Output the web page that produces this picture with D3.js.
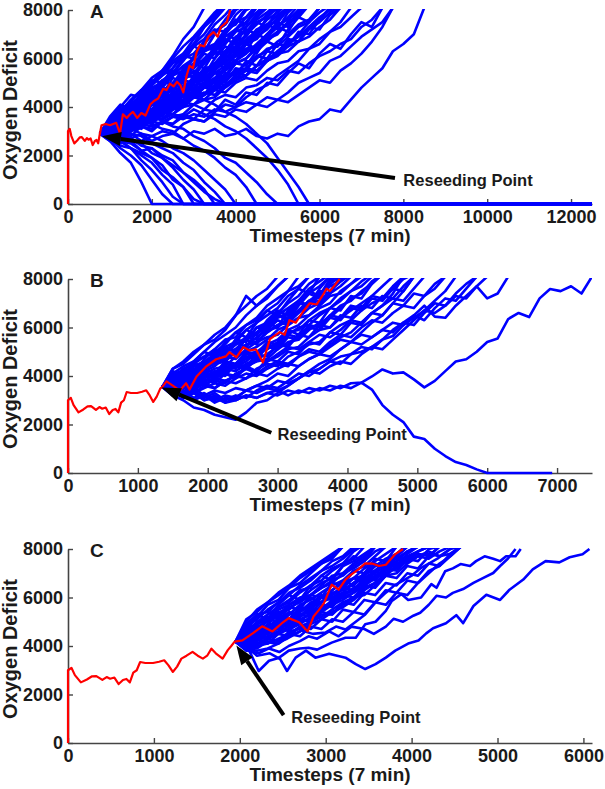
<!DOCTYPE html>
<html>
<head>
<meta charset="utf-8">
<script src="https://cdn.jsdelivr.net/npm/d3@7"></script>
<style>
  body { margin: 0; background: #fff; }
  svg text { font-family: "Liberation Sans", Arial, Helvetica, sans-serif; font-weight: bold; fill: #1a1a1a; }
</style>
</head>
<body>
<svg id="chart" width="605" height="789"></svg>
<script>
// ---- data (oxygen deficit vs timestep) ----

const yTicks = [0, 2000, 4000, 6000, 8000];
const xTicksA = [0, 2000, 4000, 6000, 8000, 10000, 12000];
const xTicksB = [0, 1000, 2000, 3000, 4000, 5000, 6000, 7000];
const xTicksC = [0, 1000, 2000, 3000, 4000, 5000, 6000];

// red run before reseeding (same in all three panels)
const redEarly = [[0,0],[0,3000],[40,3100],[80,2800],[150,2500],[220,2620],[280,2750],[330,2760],[400,2600],
  [450,2720],[490,2650],[540,2700],[590,2430],[640,2600],[680,2640],[720,2500],[760,2900],[800,3000],[840,3340],
  [900,3300],[990,3300],[1060,3350],[1120,3410],[1170,3200],[1220,2930],[1270,3150],[1320,3480],[1380,3600],
  [1450,3760],[1510,3600],[1570,3480],[1620,3600],[1670,3890],[1720,3700],[1800,3480],[1860,3830],[1900,4000],[1940,4180]];

// panel A
const reseedA = 760;
const zeroEndA = 12500;
const redA = [[760,2900],[800,3250],[900,3300],[1000,3250],[1150,3350],[1240,2900],[1310,3700],[1400,3550],[1480,3700],
  [1550,3800],[1650,3550],[1750,3750],[1850,3650],[1960,4100],[2050,4250],[2150,4350],[2270,4750],[2350,4700],[2430,4960],
  [2520,4850],[2600,5040],[2680,4900],[2750,4600],[2830,5300],[2900,5700],[2980,5600],[3070,6270],[3150,6560],[3250,6500],
  [3350,6900],[3470,7090],[3570,6900],[3650,7300],[3790,7500],[3870,8000]];
const timeA = [760,1000,1250,1500,1750,2000,2250,2500,2750,3000,3250,3500,3750,4000,4250,4500,4750,5000,5250,5500,
  5750,6000,6250,6500,6750,7000,7250,7500,7750,8000,8250,8500];
const blueA = [
  [2900,3500,3800,4300,4700,5200,5500,6100,6800,7300,8100],
  [2900,3300,3600,4100,4400,4900,5300,5600,6200,6600,7300,7700,8200],
  [2900,3200,3700,3900,4300,4500,5100,5400,5900,6500,6800,7400,7800,8300],
  [2900,3400,3300,3800,4200,4600,4800,5300,5700,6000,6600,7100,7400,8000,8300],
  [2900,2900,3400,3700,3900,4400,4700,4900,5500,5800,6300,6500,7100,7500,8100],
  [2900,3200,3100,3500,3900,4100,4600,4800,5100,5700,5900,6400,6900,7200,7700,8200],
  [2900,3100,3500,3600,3800,4300,4400,4900,5300,5400,5900,6300,6600,7200,7500,7900,8300],
  [2900,2800,3100,3400,3600,3700,4200,4500,4800,5200,5500,5800,6300,6500,7000,7400,7800,8200],
  [2900,3300,3200,3600,3700,4100,4300,4400,4900,5100,5600,5700,6200,6700,6900,7500,7700,8100],
  [2900,2900,3200,3300,3700,3900,4100,4600,4700,5000,5400,5800,6000,6400,6800,7100,7600,7900,8300],
  [2900,3100,2900,3300,3500,3600,4000,4200,4600,4900,5000,5500,5900,6100,6600,6900,7200,7700,8100],
  [2900,2800,3000,3200,3100,3600,3800,4100,4300,4700,4900,5200,5600,5900,6200,6600,7000,7300,7700,8200],
  [2900,3200,3400,3300,3700,3800,4000,4400,4500,4800,5300,5400,5700,6100,6400,6500,7000,7400,7600,8000,8300],
  [2900,2700,2900,3100,3400,3300,3700,3900,4300,4400,4800,5100,5300,5800,6000,6400,6700,7100,7400,7900,8200],
  [2900,3100,3300,3600,3500,3900,4200,4300,4600,5000,5100,5600,6000,6200,6700,7000,7400,7500,8000,8300],
  [2900,3300,3500,3400,3800,4200,4500,4700,5200,5300,5800,6200,6300,6900,7100,7600,7900,8300],
  [2900,3200,3600,3900,4200,4400,4900,5300,5500,6000,6400,6600,7200,7400,8000,8200],
  [2900,3400,3600,4000,4300,4800,5000,5400,6000,6200,6700,7100,7400,8000,8300],
  [2900,2900,3300,3500,3800,3900,4300,4600,4700,5200,5500,5700,6000,6500,6700,7200,7400,7800,8100],
  [2900,3100,3000,3400,3600,3600,3900,4100,4500,4600,5000,5400,5500,5900,6300,6400,6800,7100,7500,7700,8200],
  [2900,2800,3100,3000,3300,3500,3500,3900,4000,4400,4500,4900,5300,5400,5800,6100,6300,6700,7000,7400,7600,8100],
  [2900,3000,2800,3200,3200,3500,3800,3700,4100,4400,4500,4800,5200,5500,5600,6000,6400,6500,6900,7300,7500,7900,8200],
  [2900,3300,3700,3600,4000,4400,4600,5000,5500,5700,6300,6500,7000,7500,7700,8200],
  [2900,3500,3900,4100,4500,5000,5300,5800,6100,6600,7000,7600,8100],
  [2900,3200,3500,3800,4000,4500,4700,4900,5400,5600,6000,6400,6600,7100,7300,7700,8100],
  [2900,2900,3200,3400,3300,3700,3900,4200,4300,4700,5000,5100,5500,5800,6000,6500,6800,7000,7500,7800,8200],
  [2900,2700,2800,3000,3200,3100,3400,3600,3700,4100,4300,4400,4800,5100,5300,5700,5900,6300,6700,6900,7300,7700,8000,8300],
  [2900,3100,3400,3200,3600,3900,4100,4400,4600,5100,5200,5600,5800,6300,6600,6800,7300,7600,8100],
  [2900,3400,3900,4200,4700,5000,5500,6000,6500,6900,7400,7900,8300],
  [2900,3300,3600,4000,4500,4900,5400,5900,6200,6800,7300,7800,8200],
  [2900,3300,3100,3700,3500,4100,4000,4600,4400,5000,5200,5000,5700,5900,6400,6200,6900,7300,7100,7800,8200],
  [2900,3100,3500,3300,3900,3800,4300,4800,4600,5300,5100,5700,6100,5900,6600,7000,6800,7500,8100],
  [2900,3400,3200,3800,4000,3900,4500,4400,5100,5000,5600,5500,6200,6500,6300,7000,7400,7200,7900,8300],
  [2900,3200,3600,3400,4100,4400,4200,4900,5400,5200,5900,6300,6100,6800,7200,7000,7700,8200],
  [2900,3000,3400,3900,3700,4300,4600,4400,5100,5500,5300,6000,6500,6300,7000,7500,7300,8000,8300],
  [2900,3500,3300,4000,4500,4300,5000,5500,5300,6100,6500,6300,7100,7600,7400,8200],
  [2900,3300,3800,3600,4200,4700,4500,5200,5000,5700,6200,6000,6700,7200,7000,7700,8200],
  [2900,2800,3300,3100,3600,3500,4000,3900,4500,4400,5000,4800,5400,5300,5900,5700,6300,6200,6800,6700,7300,7200,7800,8100],
  [2900,3100,2900,3400,3300,3800,3600,4200,4100,4700,4500,5100,5000,5600,5500,6100,6000,6600,6500,7100,7000,7600,8100],
  [2900,3400,3700,4200,4000,4700,5100,4900,5600,6000,5800,6500,7000,6800,7500,8100],
  [2900,3200,3000,3500,3900,3700,4300,4200,4800,4700,5300,5800,5600,6200,6600,6400,7000,7500,7300,8000,8200],
  [2900,3300,3600,4000,3800,4400,4800,4600,5300,5800,5600,6300,6800,6600,7300,7800,8200],
  [2900,3000,3300,3200,3700,3600,4100,4000,4600,4500,4900,5400,5200,5800,5700,6300,6700,6500,7200,7700,7500,8100],
  [2900,3500,4000,4500,4400,5000,5500,5300,6000,6500,6300,7000,7600,8100],
  [2900,3600,4100,3900,4600,5100,5000,5600,6100,6000,6700,7200,7100,7800,8200],
  // slower runs
  [2900,2800,2900,2700,2900,2600,2800,2900,2700,3000,2900,3100,2800,2900,3100,2800,2700,2900,2800,3200,3400,3500,3900,3800,4300,4800,5200,5600,6300,6600,7000,8100],
  [2900,2900,3100,3300,3200,3400,3300,3600,3500,3700,3600,3900,3800,4000,4200,4100,4400,4300,4600,5000,5200,5400,5900,6100,6500,6900,7200,7500,8100],
  [2900,3200,3000,3400,3500,3400,3800,3700,4000,4100,3900,4300,4500,4400,4800,4900,5200,5100,5500,5400,5800,6100,6300,6600,6800,7300,7600,8100],
  [2900,3100,3300,3200,3600,3800,3700,4000,4200,4100,4500,4700,4600,5000,5200,5100,5500,5800,5900,6300,6400,6800,7100,7300,7700,8100],
  [2900,3300,3500,3400,3700,3900,4200,4100,4500,4400,4800,5000,4900,5300,5600,5500,5900,6200,6300,6700,6900,7300,7600,8100],
  [2900,2800,2700,2900,2600,2800,3000,2900,3300,3500,3400,3800,4100,4000,4400,4700,4900,5300,5600,5900,6400,6600,7100,7500,8100],
  [2900,3200,3100,3400,3700,3600,3900,4100,4000,4400,4600,4500,4900,5200,5300,5700,5900,6300,6600,7000,7500,8100],
  [2900,3100,3300,3600,3500,3800,4000,4300,4200,4600,4800,4700,5100,5400,5300,5700,6000,6200,6600,6900,7300,7600,8100],
  [2900,2900,3200,3100,3500,3600,3500,3900,4100,4400,4300,4700,4900,5200,5500,5400,5900,6100,6500,6700,7200,7500,7900,8200],
  [2900,3000,2800,3100,3300,3200,3400,3300,3600,3500,3400,3700,3600,3900,3800,4100,4000,4300,4200,4500,4800,5100,5000,5500,5800,6200,6700,7300,8100],
  [2900,2700,3000,2800,3200,3000,3400,3300,3700,3500,3900,3800,4300,4100,4600,4500,5000,4900,5400,5800,5600,6200,6600,6400,7000,7500,7300,8100],
  // runs absorbed at zero
  [2900,2600,2100,1700,900,0],
  [2900,2700,2300,2000,1600,1000,400,0],
  [2900,2800,2600,2300,2000,1700,1200,800,0],
  [2900,2900,2500,2600,2200,1900,1600,1000,700,0],
  [2900,3100,2800,2600,2500,2100,1900,1500,1000,600,0],
  [2900,2800,2900,2700,2400,2300,2000,1800,1300,1000,600,0],
  [2900,3200,3000,2900,2800,2500,2300,2100,1700,1400,900,500,0],
  [2900,3100,3300,3100,2900,2800,2600,2300,2100,1800,1400,1000,600,0],
  [2900,3200,3400,3300,3500,3300,3100,3000,2700,2400,2200,1900,1500,1200,700,0],
  [2900,3100,3300,3600,3500,3700,3400,3200,3100,2800,2600,2300,1900,1700,1300,900,400,0],
  [2900,3200,3500,3400,3800,3900,4100,4000,4200,4400,4300,4100,3800,3600,3300,2900,2500,1900,1300,700,0],
  [2900,2900,3100,3400,3300,3600,3500,3700,3600,3900,3700,3500,3200,3000,2700,2300,1900,1400,800,0],
  [2900,2600,2400,2300,1800,1400,900,300,0],
  [2900,2900,2600,2300,2100,1900,1400,1100,700,200,0],
  [2900,2800,2600,2500,2200,2300,1900,1600,1300,900,500,200,0]
];

// panel B
const reseedB = 1350;
const zeroEndB = 6930;
const redB = [[1350,3550],[1410,3780],[1500,3600],[1600,3400],[1690,3700],[1740,3440],[1840,3980],[1980,4400],[2120,4690],
  [2260,4810],[2310,4980],[2410,4770],[2510,5190],[2600,5050],[2690,5100],[2790,4560],[2890,5520],[3030,5810],[3100,5700],
  [3170,6300],[3260,6200],[3360,6640],[3460,7000],[3560,6950],[3640,7300],[3700,7600],[3750,7500],[3890,8000]];
const timeB = [1350,1500,1650,1800,1950,2100,2250,2400,2550,2700,2850,3000,3150,3300,3450,3600,3750,3900,4050,4200,
  4350,4500,4650,4800,4950,5100,5250,5400,5550,5700,5850,6000,6150,6300,6450,6600,6750,6900,7050,7200,7350,7500];
const blueB = [
  [3550,4300,4500,4900,5300,5500,5900,6500,7300,6900,7300,7700,8100],
  [3550,4100,4400,4600,5000,5400,5700,6000,6500,6900,7200,7700,8100],
  [3550,3900,4300,4500,4800,5000,5300,5800,6100,6400,6900,7200,7500,8100],
  [3550,3800,4000,4400,4600,4900,5200,5400,5900,6200,6500,6800,7300,7600,8100],
  [3550,3700,4100,4200,4500,4700,5100,5300,5500,6000,6200,6600,7000,7300,7800,8100],
  [3550,4000,3900,4300,4400,4800,4900,5300,5600,5700,6200,6500,6800,7100,7600,7900,8200],
  [3550,3600,3900,4000,4400,4500,4700,5100,5200,5600,5900,6000,6400,6700,7100,7400,7800,8100],
  [3550,3800,3700,4100,4200,4400,4800,4900,5300,5400,5800,6100,6300,6700,6900,7300,7700,7900,8200],
  [3550,3500,3800,3900,4100,4300,4400,4800,5000,5200,5500,5900,6100,6400,6800,7000,7400,7700,8100],
  [3550,3400,3700,3600,4000,4100,4300,4500,4900,5000,5300,5500,5900,6100,6500,6800,7000,7500,7800,8200],
  [3550,3700,3600,3800,3900,4200,4100,4500,4700,4800,5200,5300,5700,6000,6100,6500,6800,7100,7500,7700,8100],
  [3550,3300,3500,3700,3600,3900,4100,4000,4400,4600,4700,5100,5400,5500,5900,6200,6400,6800,7200,7400,7900,8200],
  [3550,3900,4200,4100,4500,4800,5000,5100,5500,5800,6000,6400,6600,7000,7400,7700,8100],
  [3550,4100,4200,4600,4800,5100,5500,5600,6100,6300,6700,7000,7500,7700,8100],
  [3550,3600,3500,3800,4000,3900,4300,4400,4600,5000,5100,5400,5800,5900,6300,6600,6800,7200,7500,7900,8200],
  [3550,3400,3300,3500,3700,3800,3700,4100,4300,4200,4600,4800,5100,5200,5600,5900,6000,6400,6700,7000,7300,7700,8100],
  [3550,3800,4000,3900,4300,4500,4600,5000,5300,5400,5800,6100,6200,6600,7000,7100,7500,7900,8200],
  [3550,3300,3600,3400,3800,3900,4200,4400,4300,4700,4900,5200,5300,5700,6000,6100,6500,6900,7100,7500,7800,8200],
  [3550,3900,3800,4200,4300,4600,4800,4700,5100,5400,5600,5700,6100,6400,6500,6900,7300,7400,7800,8100],
  [3550,3500,3400,3300,3600,3500,3800,4000,3900,4300,4500,4400,4800,5000,5300,5400,5800,6100,6300,6700,7000,7200,7600,8000,8200],
  [3550,4000,3800,4400,4300,4800,5200,5000,5600,5500,6100,6500,6300,6900,7400,7200,7900,8200],
  [3550,3800,4200,4000,4600,4500,5000,5400,5200,5800,6200,6000,6700,7100,6900,7600,8100],
  [3550,3600,4000,3800,4300,4100,4600,4500,5000,4900,5400,5300,5900,5700,6300,6200,6800,6700,7300,7200,7800,8200],
  [3550,4200,4000,4600,5000,4800,5400,5800,5600,6200,6700,6500,7100,7600,7400,8100],
  [3550,3500,3900,3700,4200,4000,4500,4400,4900,4800,5300,5200,5700,5600,6100,6000,6500,6400,6900,6800,7300,7200,7700,8100],
  [3550,3900,4300,4100,4700,5100,4900,5500,5900,5700,6300,6700,6500,7100,7500,7300,8000,8200],
  [3550,3400,3800,3600,4100,3900,4400,4300,4800,4700,5200,5100,5600,5500,6000,5900,6400,6300,6800,6700,7200,7100,7600,7500,8100],
  [3550,3700,4100,3900,4400,4800,4600,5100,5500,5300,5900,6300,6100,6700,7100,6900,7500,8000,8200],
  [3550,4300,4600,5000,5300,5700,6000,6500,6900,7300,7600,8100],
  [3550,3300,3700,3500,3900,3700,4100,3900,4400,4200,4700,4600,5000,4900,5400,5300,5800,5700,6200,6100,6600,6500,7000,6900,7400,7300,7800,8100],
  [3550,3700,3500,3900,3700,4200,4000,4500,4400,4900,4800,5300,5200,5700,5600,6100,6000,6500,6400,6900,6800,7300,7200,7700,8100],
  [3550,4100,3900,4500,4400,5000,4900,5500,5400,6000,5900,6500,6400,7000,6900,7500,7400,8100],
  // slower runs
  [3550,3300,3400,3100,3300,3000,3200,3100,3400,3300,3500,3400,3600,3900,4150,4300,4600,4800,4900,5000,5200,5500,5650,
   6100,6500,6900,6450,6400,6900,7300,7700,7200,7400,8100],
  [3550,3200,3300,3000,3200,2900,3100,3000,3200,3100,3300,3200,3400,3300,3500,3400,3600,3500,3700,3730,3980,4270,4100,
   4150,3860,3530,3800,4200,4600,4690,5000,5400,5550,6350,6600,6430,7200,7590,7500,7700,7400,8100],
  [3550,3700,3500,3800,3600,3900,3800,4000,4300,4100,4400,4600,4500,4800,5000,4900,5200,5500,5400,5700,5600,5900,6200,
   6100,6400,6700,6600,6900,7300,7200,7700,8100],
  [3550,3300,3500,3400,3700,3500,3800,3700,3900,4100,4000,4300,4500,4400,4700,4900,4800,5100,5400,5300,5600,5900,5800,
   6200,6500,6300,6800,7200,7100,7600,8100],
  [3550,3400,3600,3300,3500,3700,3600,3900,4100,4000,4300,4500,4400,4800,5100,5000,5400,5700,5600,6000,6300,6200,6600,
   6900,6800,7300,7600,8100],
  [3550,3700,3600,3900,4100,4000,4300,4200,4500,4700,4600,4900,5200,5100,5400,5700,5600,5900,6300,6200,6600,6900,7200,
   7100,7600,8100],
  [3550,3200,3000,2700,2600,2400,2300,2200,2500,2900,3000,3300,3600,3900,4200,4500,4700,5100,5400,5800,6200,6500,7000,7500,8100],
  [3550,3400,3100,3300,3000,3200,2900,3100,3400,3600,3800,4100,4000,4400,4700,4900,5300,5600,5800,6200,6600,6900,7400,8100],
  [3550,3300,3200,3400,3100,3300,3000,3200,3100,3400,3600,3500,3800,4100,4000,4300,4600,4500,4900,5200,5100,5500,5900,
   6200,6100,6600,7000,6900,7400,7800,8100],
  [3550,3600,3300,3500,3200,3400,3300,3500,3400,3600,3500,3800,3700,3900,4200,4100,4400,4600,4500,4900,5200,5100,5500,
   5900,6300,6700,7100,7500,8100],
  // run absorbed at zero
  [3550,3400,3200,3300,3000,3100,2900,3000,3200,3100,3300,3400,3200,3400,3300,3500,3400,3600,3500,3730,3440,2800,2400,
   2100,1500,1400,1000,700,450,330,150,0]
];

// panel C
const reseedC = 1940;
const redC = [[1940,4180],[2030,4230],[2150,4520],[2260,4810],[2380,4600],[2490,4940],[2570,5150],[2690,4980],[2790,4600],
  [2860,5230],[2920,5480],[2980,5770],[3070,6530],[3150,6320],[3230,6740],[3300,6950],[3380,7160],[3460,7410],[3540,7400],
  [3620,7300],[3700,7350],[3810,7790],[3900,8000]];
const timeC = [1950,2075,2200,2325,2450,2575,2700,2825,2950,3075,3200,3325,3450,3575,3700,3825,3950,4075,4200,4325,4450,4575];
const blueC = [
  [4180,5000,5500,5800,6200,6500,6900,7200,7500,7800,8100],
  [4180,4800,5200,5700,5900,6400,6600,7000,7400,7600,8100],
  [4180,4600,5300,5400,5800,6100,6500,6800,7100,7500,7700,8100],
  [4180,4700,4900,5300,5600,5900,6300,6400,6900,7200,7400,7900,8200],
  [4180,4400,4900,5100,5500,5700,5900,6300,6600,6800,7300,7500,7800,8100],
  [4180,4500,4700,5100,5200,5600,5800,6100,6400,6700,6900,7300,7600,8100],
  [4180,4300,4600,4800,5100,5300,5700,5900,6200,6500,6700,7100,7300,7700,8100],
  [4180,4200,4500,4900,4900,5300,5400,5800,6000,6300,6600,6800,7200,7500,7800,8100],
  [4180,4000,4400,4500,4800,5100,5200,5600,5800,6100,6400,6500,6900,7300,7400,7800,8100],
  [4180,3900,4200,4400,4600,4800,5100,5300,5600,5800,6200,6300,6700,7000,7300,7500,7900,8100],
  [4180,4100,4100,4300,4500,4700,4900,5200,5400,5700,5900,6200,6500,6800,7100,7400,7600,7900,8100],
  [4180,3800,4000,4100,4300,4500,4800,5000,5200,5500,5800,6000,6400,6600,7000,7200,7500,7700,7600,7900,8100],
  [4180,3900,3800,3900,4100,4400,4600,4900,5100,5400,5600,5900,6300,6600,6900,7300,7500,7700,7900,7700,7800,8100],
  [4180,4300,4500,4600,5000,5100,5400,5700,5800,6200,6300,6600,7000,7100,7500,7700,8100],
  [4180,4600,4800,5000,5400,5500,5900,6100,6400,6600,7000,7200,7500,7900,8100],
  [4180,4400,4400,4700,5000,5100,5500,5600,6000,6100,6500,6800,6900,7300,7600,7800,8200],
  [4180,4000,4300,4700,4700,5000,5300,5400,5800,6000,6200,6600,6800,7100,7400,7600,7900,8100],
  [4180,4200,4300,4500,4800,4900,5200,5500,5500,5900,6100,6400,6600,6900,7200,7500,7700,7900,8100],
  [4180,4500,4900,5200,5300,5700,6000,6100,6500,6900,7000,7400,7700,8100],
  [4180,4800,5100,5500,5800,6200,6400,6700,7100,7300,7600,8000,8100],
  [4180,3900,4100,4300,4200,4600,4700,5000,5300,5300,5700,6000,6100,6500,6900,7000,7400,7700,7800,7700,8000,8100],
  [4180,4300,4200,4600,4700,4900,5000,5400,5600,5700,6100,6300,6600,6800,7200,7400,7500,7900,8100],
  [4180,4100,4400,4300,4600,4800,5000,5100,5500,5800,6000,6200,6500,6800,7000,7300,7600,7800,7700,8100],
  [4180,4600,5000,5300,5600,5800,6200,6500,6700,7100,7400,7600,8100],
  [4180,4700,4500,5100,5000,5600,5500,6100,6000,6600,6500,7100,7000,7600,7500,8100],
  [4180,4400,4800,4600,5200,5100,5600,5500,6000,5900,6400,6300,6800,6700,7200,7100,7600,7500,8000,8100],
  [4180,4900,5300,5100,5700,6100,5900,6500,6900,6700,7300,7700,7500,8100],
  [4180,4100,4500,4300,4800,4600,5100,5000,5400,5300,5800,5700,6200,6100,6600,6500,7000,6900,7400,7300,7800,8100],
  [4180,4300,4700,4500,5000,5400,5200,5700,6100,5900,6400,6800,6600,7100,7500,7300,7800,8100],
  [4180,4600,4400,4900,5300,5100,5600,6000,5800,6300,6700,6500,7000,7400,7200,7700,8100],
  [4180,3900,4300,4100,4500,4400,4800,4700,5100,5000,5500,5400,5900,5800,6300,6200,6700,6600,7100,7300,7700,8100],
  [4180,5100,5400,5800,6100,6400,6800,7100,7400,7700,8100],
  [4180,4500,4300,4700,4900,4800,5300,5200,5700,5600,6100,6000,6500,6400,6900,6800,7300,7200,7700,8100],
  [4180,4000,3900,4200,4100,4500,4400,4800,4700,5100,5000,5400,5300,5800,5700,6200,6100,6600,7000,7400,7700,8100]
];
// slow runs of panel C, read at their own timesteps
const slowC = [
  [[1950,4180],[2110,3810],[2220,2970],[2340,3390],[2460,3520],[2550,2970],[2650,3520],[2770,3810],[2880,3520],[3040,3680],
   [3230,3520],[3350,3250],[3460,3050],[3580,3250],[3700,3520],[3810,3810],[3960,4100],[4080,4230],[4170,4520],[4250,4730],
   [4400,4940],[4520,5270],[4600,4940],[4720,5650],[4870,6110],[5030,5900],[5140,6320],[5300,6740],[5410,7160],[5560,7500],
   [5720,7450],[5840,7660],[5990,7780],[6070,8000]],
  [[1950,4180],[2100,3900],[2200,3600],[2350,3700],[2450,3500],[2570,3810],[2700,3900],[2800,3930],[2900,3850],[3070,4140],
   [3230,4340],[3350,4340],[3460,4900],[3580,5000],[3700,5450],[3770,5860],[3880,6140],[3960,5900],[4110,6000],[4230,6550],
   [4290,6400],[4390,7080],[4480,7200],[4570,7380],[4680,7300],[4750,7500],[4850,7700],[4950,7600],[5030,7500],[5100,7700],
   [5210,7700],[5270,8000]],
  [[1950,4180],[2100,3800],[2220,3700],[2340,3900],[2460,3750],[2570,4000],[2700,4200],[2800,4400],[2900,4300],[3040,4600],
   [3150,4400],[3300,4800],[3450,4700],[3560,4500],[3700,4800],[3790,5120],[3900,5000],[4020,5250],[4100,5370],[4200,5700],
   [4290,6070],[4400,6000],[4480,6190],[4600,6350],[4720,6600],[4830,6800],[4950,7010],[5030,7300],[5120,7600],[5210,8000]],
  [[1950,4180],[2050,3900],[2150,4000],[2300,4200],[2400,4100],[2550,4300],[2650,4500],[2720,4640],[2850,4500],[3000,4560],
   [3120,4800],[3230,4680],[3350,5000],[3460,5300],[3580,5800],[3700,6200],[3800,6500],[3900,6700],[4000,6900],[4100,7200],
   [4200,7400],[4300,7600],[4450,8000]]
];

// ---- drawing ----
const svg = d3.select('#chart');
const plotLeft = 68, plotRight = 592, plotH = 194;

const panels = [
  { name: 'A', bottom: 204, xMax: 12500, xTicks: xTicksA, time: timeA, blue: blueA, extra: [],
    reseed: reseedA, red: redA, zeroEnd: zeroEndA, tip: [810, 2790], tail: [7800, 1070], label: [8000, 740] },
  { name: 'B', bottom: 473, xMax: 7500, xTicks: xTicksB, time: timeB, blue: blueB, extra: [],
    reseed: reseedB, red: redB, zeroEnd: zeroEndB, tip: [1340, 3530], tail: [2910, 1660], label: [3000, 1370] },
  { name: 'C', bottom: 743, xMax: 6100, xTicks: xTicksC, time: timeC, blue: blueC, extra: slowC,
    reseed: reseedC, red: redC, zeroEnd: 6100, tip: [1960, 4020], tail: [2510, 1150], label: [2600, 820] }
];

panels.forEach(function(p) {
  const top = p.bottom - plotH;
  const x = d3.scaleLinear().domain([0, p.xMax]).range([plotLeft, plotRight]);
  const y = d3.scaleLinear().domain([0, 8000]).range([p.bottom, top]);
  const g = svg.append('g');

  // axes, ticks point inward
  const xAxis = g.append('g')
    .attr('transform', `translate(0,${p.bottom})`)
    .call(d3.axisBottom(x).tickValues(p.xTicks).tickFormat(d3.format('d')).tickSize(-5).tickSizeOuter(0).tickPadding(6));
  const yAxis = g.append('g')
    .attr('transform', `translate(${plotLeft},0)`)
    .call(d3.axisLeft(y).tickValues(yTicks).tickFormat(d3.format('d')).tickSize(-5).tickSizeOuter(0).tickPadding(5));
  [xAxis, yAxis].forEach(a => {
    a.select('.domain').attr('stroke', '#444').attr('stroke-width', 1.6);
    a.selectAll('.tick line').attr('stroke', '#444').attr('stroke-width', 1.4);
    a.selectAll('.tick text').attr('font-size', '18px').attr('fill', '#1a1a1a');
  });

  // clip to the plotting area (runs stop at 8000)
  svg.append('clipPath').attr('id', 'clip' + p.name)
    .append('rect').attr('x', plotLeft - 2).attr('y', top - 1)
    .attr('width', plotRight - plotLeft + 2).attr('height', plotH + 4);
  const lines = g.append('g').attr('clip-path', `url(#clip${p.name})`);
  const line = d3.line().x(d => x(d[0])).y(d => y(d[1]));

  const runs = p.blue.map(vals => {
    const pts = vals.map((v, k) => [p.time[k], v]);
    if (vals[vals.length - 1] === 0) pts.push([p.zeroEnd, 0]);
    return pts;
  }).concat(p.extra);

  lines.selectAll('path.run')
    .data(runs)
    .join('path')
    .attr('class', 'run')
    .attr('d', line)
    .attr('fill', 'none')
    .attr('stroke', '#0000ff')
    .attr('stroke-width', 2.6)
    .attr('stroke-linejoin', 'round');

  const redRun = redEarly.filter(d => d[0] < p.reseed).concat(p.red);
  lines.append('path')
    .attr('d', line(redRun))
    .attr('fill', 'none')
    .attr('stroke', '#ff0000')
    .attr('stroke-width', 2.2)
    .attr('stroke-linejoin', 'round');

  // arrow to the reseeding point
  const tx = x(p.tail[0]), ty = y(p.tail[1]);
  const hx = x(p.tip[0]), hy = y(p.tip[1]);
  const ang = Math.atan2(hy - ty, hx - tx);
  const headLen = 19, headHalf = 7;
  const bx = hx - headLen * Math.cos(ang), by = hy - headLen * Math.sin(ang);
  g.append('line')
    .attr('x1', tx).attr('y1', ty).attr('x2', bx).attr('y2', by)
    .attr('stroke', '#000').attr('stroke-width', 4);
  g.append('path')
    .attr('d', `M${hx},${hy}L${bx + headHalf * Math.sin(ang)},${by - headHalf * Math.cos(ang)}` +
               `L${bx - headHalf * Math.sin(ang)},${by + headHalf * Math.cos(ang)}Z`)
    .attr('fill', '#000');
  g.append('text')
    .attr('x', x(p.label[0])).attr('y', y(p.label[1]))
    .attr('font-size', '16.5px')
    .text('Reseeding Point');

  // panel letter and titles
  g.append('text')
    .attr('x', 90).attr('y', top + 8)
    .attr('font-size', '19px')
    .text(p.name);
  g.append('text')
    .attr('transform', `translate(17,${(top + p.bottom) / 2 + 3}) rotate(-90)`)
    .attr('text-anchor', 'middle')
    .attr('font-size', '20px')
    .text('Oxygen Deficit');
  g.append('text')
    .attr('x', (plotLeft + plotRight) / 2).attr('y', p.bottom + 38)
    .attr('text-anchor', 'middle')
    .attr('font-size', '19px')
    .text('Timesteps (7 min)');
});
</script>
</body>
</html>
